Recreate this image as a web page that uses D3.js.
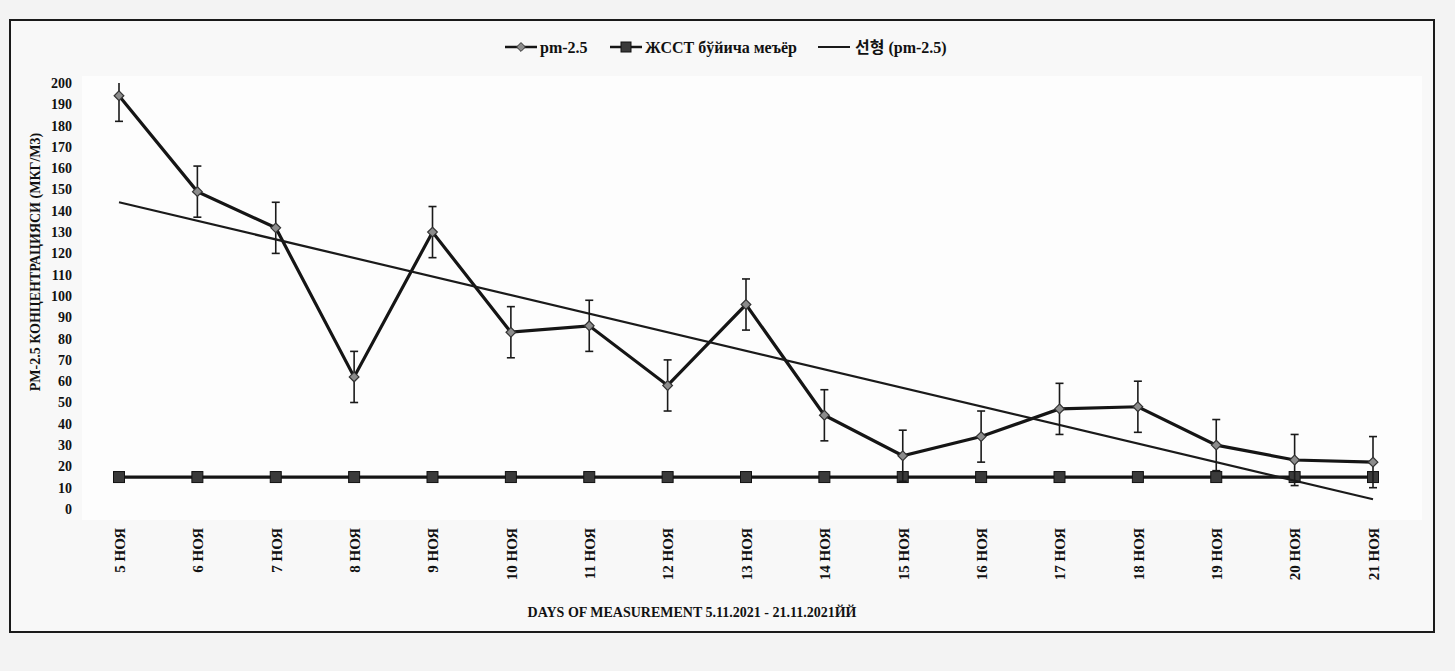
<!DOCTYPE html>
<html lang="ru">
<head>
    <meta charset="UTF-8">
    <title>PM-2.5</title>
    <script src="https://d3js.org/d3.v7.min.js"></script>
    <style>
        body {
            margin: 0;
            background: #f3f3f3;
            font-family: "Liberation Serif", "Noto Sans CJK KR", serif;
        }
        text { font-weight: bold; fill: #111; }
    </style>
</head>
<body>
    <svg id="chart"></svg>

    <script>
        const days = ["5 НОЯ", "6 НОЯ", "7 НОЯ", "8 НОЯ", "9 НОЯ", "10 НОЯ", "11 НОЯ", "12 НОЯ", "13 НОЯ",
                      "14 НОЯ", "15 НОЯ", "16 НОЯ", "17 НОЯ", "18 НОЯ", "19 НОЯ", "20 НОЯ", "21 НОЯ"];
        const pm25 = [194, 149, 132, 62, 130, 83, 86, 58, 96, 44, 25, 34, 47, 48, 30, 23, 22];
        const pmError = [12, 12, 12, 12, 12, 12, 12, 12, 12, 12, 12, 12, 12, 12, 12, 12, 12];
        const whoNorm = [15, 15, 15, 15, 15, 15, 15, 15, 15, 15, 15, 15, 15, 15, 15, 15, 15];
        const yTicks = d3.range(0, 201, 10);

        const width = 1455, height = 671;
        const svg = d3.select("#chart").attr("width", width).attr("height", height);

        // frame + plot area
        svg.append("rect").attr("x", 10).attr("y", 20).attr("width", 1424).attr("height", 612)
            .attr("fill", "#f8f8f8").attr("stroke", "#1a1a1a").attr("stroke-width", 2);
        svg.append("rect").attr("x", 82).attr("y", 76).attr("width", 1340).attr("height", 444)
            .attr("fill", "#fdfdfd");

        const x = d3.scalePoint().domain(days).range([119, 1373]);
        const y = d3.scaleLinear().domain([0, 200]).range([509, 83]);

        // y axis (labels only)
        const yAxis = svg.append("g").attr("transform", "translate(72,0)")
            .call(d3.axisLeft(y).tickValues(yTicks).tickSize(0).tickPadding(0));
        yAxis.select(".domain").remove();
        yAxis.selectAll("text").style("font-size", "14px").style("font-family", "Liberation Serif");

        // x axis labels, rotated
        const xAxis = svg.append("g").attr("transform", "translate(0,528)")
            .call(d3.axisBottom(x).tickSize(0));
        xAxis.select(".domain").remove();
        xAxis.selectAll("text")
            .attr("transform", "rotate(-90)")
            .attr("x", 0).attr("y", 0).attr("dy", "0.35em")
            .attr("text-anchor", "end")
            .style("font-size", "15px").style("font-family", "Liberation Serif");

        // axis titles
        svg.append("text").attr("transform", "translate(40,262) rotate(-90)")
            .attr("text-anchor", "middle").style("font-size", "14px")
            .text("PM-2.5 КОНЦЕНТРАЦИЯСИ (МКГ/М3)");
        svg.append("text").attr("x", 692).attr("y", 617)
            .attr("text-anchor", "middle").style("font-size", "14px")
            .text("DAYS OF MEASUREMENT 5.11.2021 - 21.11.2021ЙЙ");

        // linear trend of pm-2.5
        const n = pm25.length;
        const xm = d3.mean(d3.range(n)), ym = d3.mean(pm25);
        const slope = d3.sum(pm25, (v, i) => (i - xm) * (v - ym)) / d3.sum(d3.range(n), i => (i - xm) ** 2);
        const intercept = ym - slope * xm;
        const trend = [0, n - 1].map(i => ({ day: days[i], v: intercept + slope * i }));

        const line = d3.line().x(d => x(d.day)).y(d => y(d.v));

        // WHO norm series
        const normData = days.map((d, i) => ({ day: d, v: whoNorm[i] }));
        svg.append("path").datum(normData).attr("d", line)
            .attr("fill", "none").attr("stroke", "#151515").attr("stroke-width", 3.2);
        svg.selectAll(".sq").data(normData).join("rect").attr("class", "sq")
            .attr("x", d => x(d.day) - 5.5).attr("y", d => y(d.v) - 5.5)
            .attr("width", 11).attr("height", 11)
            .attr("fill", "#3a3a3a").attr("stroke", "#111").attr("stroke-width", 1);

        // pm-2.5 series
        const pmData = days.map((d, i) => ({ day: d, v: pm25[i], e: pmError[i] }));

        const err = svg.append("g").attr("stroke", "#1a1a1a").attr("stroke-width", 1.6);
        pmData.forEach(d => {
            const cx = x(d.day);
            const top = y(Math.min(200, d.v + d.e)), bot = y(d.v - d.e);
            err.append("line").attr("x1", cx).attr("x2", cx).attr("y1", top).attr("y2", bot);
            if (d.v + d.e <= 200)
                err.append("line").attr("x1", cx - 4).attr("x2", cx + 4).attr("y1", top).attr("y2", top);
            err.append("line").attr("x1", cx - 4).attr("x2", cx + 4).attr("y1", bot).attr("y2", bot);
        });

        svg.append("path").datum(pmData).attr("d", line)
            .attr("fill", "none").attr("stroke", "#151515").attr("stroke-width", 3.2);
        svg.selectAll(".dm").data(pmData).join("path").attr("class", "dm")
            .attr("d", d3.symbol(d3.symbolDiamond2, 60))
            .attr("transform", d => `translate(${x(d.day)},${y(d.v)})`)
            .attr("fill", "#8c8c8c").attr("stroke", "#333").attr("stroke-width", 1.2);

        svg.append("path").datum(trend).attr("d", line)
            .attr("fill", "none").attr("stroke", "#1a1a1a").attr("stroke-width", 2.2);

        // legend
        const lg = svg.append("g").attr("transform", "translate(0,47)");
        lg.append("line").attr("x1", 505).attr("x2", 537).attr("stroke", "#151515").attr("stroke-width", 2.5);
        lg.append("path").attr("d", d3.symbol(d3.symbolDiamond2, 50))
            .attr("transform", "translate(521,0)")
            .attr("fill", "#8c8c8c").attr("stroke", "#333");
        lg.append("text").attr("x", 540).attr("dy", "0.35em").style("font-size", "16px").text("pm-2.5");

        lg.append("line").attr("x1", 610).attr("x2", 642).attr("stroke", "#151515").attr("stroke-width", 2.5);
        lg.append("rect").attr("x", 621).attr("y", -5).attr("width", 10).attr("height", 10)
            .attr("fill", "#3a3a3a").attr("stroke", "#111");
        lg.append("text").attr("x", 645).attr("dy", "0.35em").style("font-size", "16px").text("ЖССТ бўйича меъёр");

        lg.append("line").attr("x1", 818).attr("x2", 850).attr("stroke", "#1a1a1a").attr("stroke-width", 2);
        lg.append("text").attr("x", 855).attr("dy", "0.35em").style("font-size", "16px").text("선형 (pm-2.5)");
    </script>
</body>
</html>
